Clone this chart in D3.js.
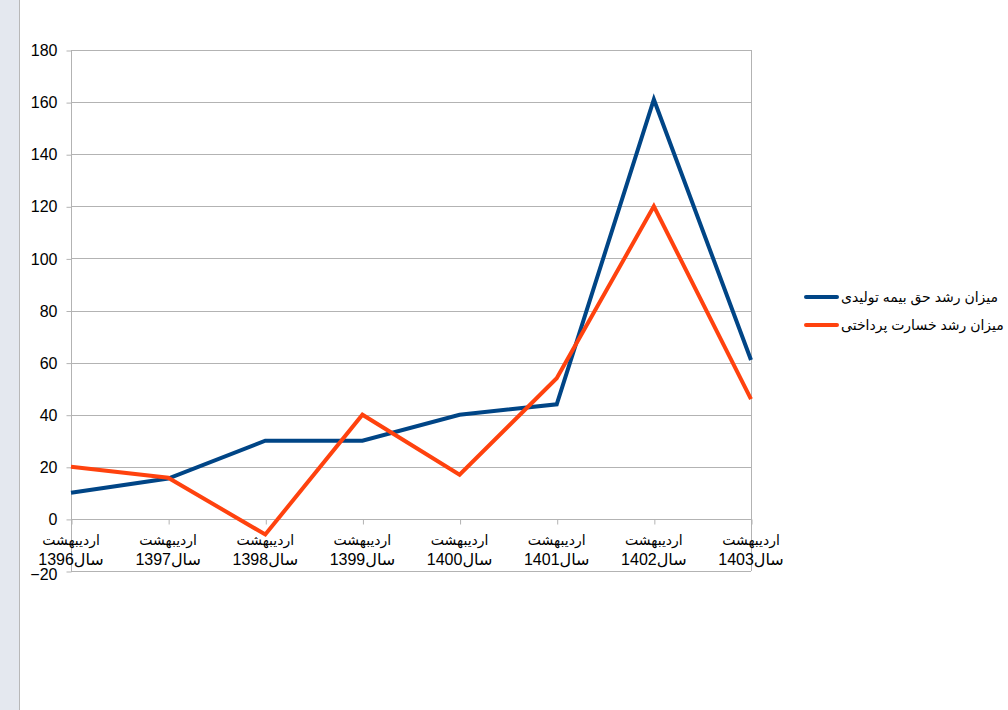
<!DOCTYPE html>
<html><head><meta charset="utf-8">
<script src="https://cdn.jsdelivr.net/npm/d3@7"></script>
<style>body{margin:0;background:#fff;}svg{display:block;}</style>
</head><body>
<svg id="chart" width="1008" height="710"></svg>
<script>
const categories = ["1396","1397","1398","1399","1400","1401","1402","1403"];
const labelTop = "اردیبهشت";
const labelPrefix = "سال";
const premiumGrowth = [10, 15.5, 30, 30, 40, 44, 161, 61];
const claimsGrowth = [20, 15.8, -6, 40, 17, 54, 120, 46];
const seriesNames = ["میزان رشد حق بیمه تولیدی", "میزان رشد خسارت پرداختی"];
const seriesColors = ["#004586", "#ff420e"];
const yTicks = [-20, 0, 20, 40, 60, 80, 100, 120, 140, 160, 180];

(function(){
const svg = d3.select("#chart");
const font = "'Liberation Sans', Arial, 'DejaVu Sans', sans-serif";

svg.append("rect").attr("x",0).attr("y",0).attr("width",19).attr("height",710).attr("fill","#e4e8ef");
svg.append("line").attr("x1",19.5).attr("x2",19.5).attr("y1",0).attr("y2",710).attr("stroke","#b8b8b8");

const pL = 71, pR = 751, pT = 50, pB = 571;
const x = d3.scalePoint().domain(categories).range([pL, pR]);
const y = d3.scaleLinear().domain([-20, 180]).range([pB, pT]);

const g = svg.append("g");
g.selectAll(".grid").data(yTicks).join("line")
  .attr("x1", pL).attr("x2", pR)
  .attr("y1", d => Math.round(y(d))+0.5).attr("y2", d => Math.round(y(d))+0.5)
  .attr("stroke", "#b3b3b3").attr("stroke-width", 1);
g.append("line").attr("x1",pR+0.5).attr("x2",pR+0.5).attr("y1",pT).attr("y2",pB).attr("stroke","#b3b3b3");
g.append("line").attr("x1",pL+0.5).attr("x2",pL+0.5).attr("y1",pT).attr("y2",pB).attr("stroke","#b3b3b3");

const yAxis = d3.axisLeft(y).tickValues(yTicks).tickSize(5).tickPadding(9).tickFormat(d3.format("d"));
const ya = svg.append("g").attr("transform", `translate(${pL+0.5},0.5)`).call(yAxis);
ya.select(".domain").remove();
ya.selectAll(".tick line").attr("stroke","#b3b3b3");
ya.selectAll(".tick text").attr("font-family", font).attr("font-size", 16).attr("fill","#000");
ya.selectAll(".tick").filter(d => d === -20).select("text").attr("dy", "0.5em");

const xAxis = d3.axisBottom(x).tickSize(5).tickFormat("");
const xa = svg.append("g").attr("transform", `translate(0.5,${Math.round(y(0))+0.5})`).call(xAxis);
xa.select(".domain").remove();
xa.selectAll(".tick line").attr("stroke","#b3b3b3");
const lab = svg.append("g");
categories.forEach(c => {
  const t = lab.append("text").attr("x", x(c)).attr("text-anchor","middle")
    .attr("font-family", font).attr("fill","#000");
  t.append("tspan").attr("x", x(c)).attr("y", 545).attr("font-size", 14).text(labelTop);
  t.append("tspan").attr("x", x(c)).attr("y", 565).attr("font-size", 16).text(labelPrefix + c);
});

const line = d3.line().x((d,i) => x(categories[i])).y(d => y(d));
[premiumGrowth, claimsGrowth].forEach((s, i) => {
  svg.append("path").datum(s).attr("d", line).attr("fill","none")
    .attr("stroke", seriesColors[i]).attr("stroke-width", 4).attr("stroke-linejoin","miter");
});

seriesNames.forEach((n, i) => {
  const ly = 297 + i*28;
  svg.append("line").attr("x1",806).attr("x2",837).attr("y1",ly).attr("y2",ly)
    .attr("stroke", seriesColors[i]).attr("stroke-width",4).attr("stroke-linecap","round");
  svg.append("text").attr("x", 841).attr("y", ly+5).attr("font-family", font).attr("font-size", 14)
    .attr("fill","#000").text(n);
});
})();
</script>
</body></html>
